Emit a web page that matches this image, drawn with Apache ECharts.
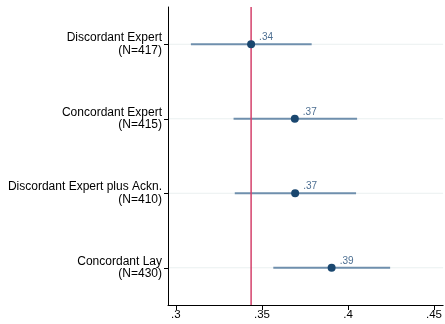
<!DOCTYPE html>
<html>
<head>
<meta charset="utf-8">
<script src="https://cdn.jsdelivr.net/npm/echarts@6/dist/echarts.min.js"></script>
<style>
  html, body { margin: 0; padding: 0; background: #fff; }
  #chart { width: 445px; height: 324px; }
</style>
</head>
<body>
<div id="chart"></div>
<script>
// Groups, shown top to bottom
const groups = [
  'Discordant Expert\n(N=417)',
  'Concordant Expert\n(N=415)',
  'Discordant Expert plus Ackn.\n(N=410)',
  'Concordant Lay\n(N=430)'
];
// Point estimates and confidence bounds
const estimates = [0.3437, 0.3691, 0.3693, 0.3905];
const lowerCI   = [0.3087, 0.3335, 0.3342, 0.3566];
const upperCI   = [0.3789, 0.4053, 0.4047, 0.4245];
// Reference line (control-group level)
const referenceValue = 0.3437;
// Horizontal axis ticks
const xTicks = [0.3, 0.35, 0.4, 0.45];

const fmt = v => {
  const s = (+v).toFixed(2).replace(/0+$/, '').replace(/\.$/, '');
  return s.replace(/^0(?=\.)/, '');
};

const ciData = groups.map((g, i) => [i, lowerCI[i], upperCI[i]]);
const pointData = groups.map((g, i) => [estimates[i], i]);

const chart = echarts.init(document.getElementById('chart'));
chart.setOption({
  animation: false,
  grid: { left: 168, right: 0, top: 7, bottom: 19 },
  xAxis: {
    type: 'value',
    min: 0.2954,
    max: 0.4553,
    axisLine: { show: true, lineStyle: { color: '#000', width: 1 } },
    axisTick: { show: true, length: 5, lineStyle: { color: '#000' }, customValues: xTicks },
    axisLabel: {
      customValues: xTicks,
      formatter: v => fmt(v),
      color: '#000', fontSize: 11.5, fontFamily: 'Liberation Sans', margin: 4
    },
    splitLine: { show: false }
  },
  yAxis: {
    type: 'category',
    data: groups,
    inverse: true,
    axisLine: { show: true, lineStyle: { color: '#000', width: 1 } },
    axisTick: { show: true, alignWithLabel: true, length: 4, lineStyle: { color: '#000' } },
    axisLabel: {
      color: '#000', fontSize: 12, fontFamily: 'Liberation Sans',
      align: 'right', lineHeight: 12.5, margin: 6
    },
    splitLine: { show: false }
  },
  series: [
    {
      // light row guide lines
      type: 'custom',
      silent: true,
      z: 1,
      data: groups.map((g, i) => [i]),
      renderItem: (params, api) => {
        const y = api.coord([0.3, api.value(0)])[1];
        const cs = params.coordSys;
        return {
          type: 'line',
          shape: { x1: cs.x + 1, y1: y, x2: cs.x + cs.width, y2: y },
          style: { stroke: '#eaf0f0', lineWidth: 1 }
        };
      },
      encode: { y: 0 }
    },
    {
      // confidence intervals
      type: 'custom',
      z: 3,
      data: ciData,
      renderItem: (params, api) => {
        const a = api.coord([api.value(1), api.value(0)]);
        const b = api.coord([api.value(2), api.value(0)]);
        return {
          type: 'line',
          shape: { x1: a[0], y1: a[1], x2: b[0], y2: b[1] },
          style: { stroke: '#6f8fad', lineWidth: 2 }
        };
      },
      encode: { y: 0, x: [1, 2] }
    },
    {
      // vertical reference line
      type: 'custom',
      silent: true,
      z: 4,
      data: [[referenceValue, 0]],
      renderItem: (params, api) => {
        const x = api.coord([api.value(0), 0])[0];
        const cs = params.coordSys;
        return {
          type: 'line',
          shape: { x1: x, y1: cs.y, x2: x, y2: cs.y + cs.height },
          style: { stroke: '#d4416b', lineWidth: 1.5 }
        };
      },
      encode: { x: 0, y: 1 }
    },
    {
      type: 'scatter',
      data: pointData,
      symbolSize: 8,
      itemStyle: { color: '#1a476f', opacity: 1 },
      label: {
        show: true,
        position: 'right',
        distance: 1,
        offset: [3, -7],
        formatter: p => fmt(p.value[0]),
        color: '#4d6f92', fontSize: 10, fontFamily: 'Liberation Sans'
      },
      z: 5
    }
  ]
});
</script>
</body>
</html>
